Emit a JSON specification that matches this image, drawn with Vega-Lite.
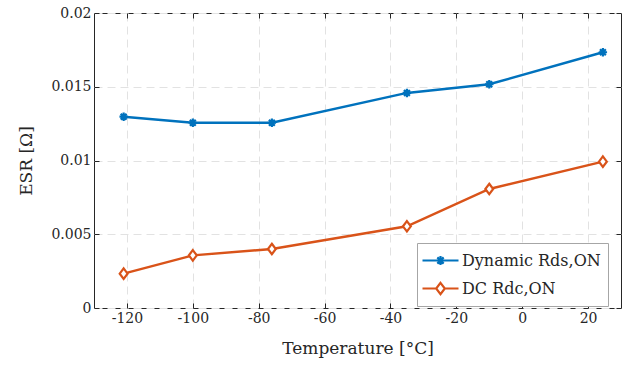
{
  "$schema": "https://vega.github.io/schema/vega-lite/v6.json",
  "width": 527,
  "height": 295,
  "autosize": {"type": "none"},
  "padding": {"left": 94, "top": 13, "right": 6, "bottom": 59},
  "background": "white",
  "config": {
    "view": {"stroke": "#262626", "strokeWidth": 1},
    "font": "DejaVu Serif",
    "axis": {
      "labelFont": "DejaVu Serif",
      "titleFont": "DejaVu Serif",
      "labelFontSize": 14,
      "titleFontSize": 17,
      "titleFontWeight": "normal",
      "labelColor": "#262626",
      "titleColor": "#262626",
      "tickColor": "#262626",
      "domain": false,
      "gridColor": "#e2e2e2",
      "gridDash": [8, 5],
      "gridWidth": 1
    },
    "legend": {"labelFont": "DejaVu Serif"}
  },
  "data": {
    "values": [
      {"t": -121, "esr": 0.01297, "s": "Dynamic"},
      {"t": -100, "esr": 0.01256, "s": "Dynamic"},
      {"t": -76, "esr": 0.01256, "s": "Dynamic"},
      {"t": -35, "esr": 0.01458, "s": "Dynamic"},
      {"t": -10, "esr": 0.01517, "s": "Dynamic"},
      {"t": 24.5, "esr": 0.01734, "s": "Dynamic"},
      {"t": -121, "esr": 0.00233, "s": "DC"},
      {"t": -100, "esr": 0.00357, "s": "DC"},
      {"t": -76, "esr": 0.00400, "s": "DC"},
      {"t": -35, "esr": 0.00554, "s": "DC"},
      {"t": -10, "esr": 0.00807, "s": "DC"},
      {"t": 24.5, "esr": 0.00992, "s": "DC"}
    ]
  },
  "layer": [
    {
      "mark": {"type": "line", "strokeWidth": 2.4},
      "encoding": {
        "x": {
          "field": "t", "type": "quantitative",
          "scale": {"domain": [-130, 30], "nice": false, "zero": false},
          "axis": {"title": "Temperature [°C]", "values": [-120, -100, -80, -60, -40, -20, 0, 20], "labelExpr": "replace(datum.label, '−', '-')", "grid": true, "tickSize": -5, "labelPadding": 8, "titlePadding": 15}
        },
        "y": {
          "field": "esr", "type": "quantitative",
          "scale": {"domain": [0, 0.02], "nice": false, "zero": true},
          "axis": {"title": "ESR [Ω]", "values": [0, 0.005, 0.01, 0.015, 0.02], "format": "~g", "grid": true, "tickSize": -5, "labelPadding": 8, "titlePadding": 15}
        },
        "color": {
          "field": "s", "type": "nominal",
          "scale": {"domain": ["Dynamic", "DC"], "range": ["#0072BD", "#D95319"]},
          "legend": {
            "title": null,
            "orient": "none",
            "legendX": 323,
            "legendY": 230,
            "direction": "vertical",
            "fillColor": "white",
            "strokeColor": "#a6a6a6",
            "cornerRadius": 0,
            "padding": 7,
            "symbolSize": 324,
            "symbolStrokeWidth": 2.2,
            "symbolOpacity": 1,
            "symbolFillColor": "white",
            "symbolOffset": 6,
            "labelOffset": 11,
            "rowPadding": 8,
            "labelFont": "DejaVu Serif",
            "labelFontSize": 16,
            "labelColor": "#262626",
            "labelExpr": "datum.value === 'Dynamic' ? 'Dynamic Rds,ON' : 'DC Rdc,ON'"
          }
        }
      }
    },
    {
      "transform": [{"filter": "datum.s === 'Dynamic'"}],
      "mark": {"type": "point", "filled": false, "fill": "white", "fillOpacity": 1, "opacity": 1, "strokeWidth": 2.2, "size": 70, "shape": "M-1,0L1,0M0,-1L0,1M-0.7,-0.7L0.7,0.7M-0.7,0.7L0.7,-0.7"},
      "encoding": {
        "x": {"field": "t", "type": "quantitative", "axis": null},
        "y": {"field": "esr", "type": "quantitative", "axis": null},
        "color": {"field": "s", "type": "nominal"}
      }
    },
    {
      "transform": [{"filter": "datum.s === 'DC'"}],
      "mark": {"type": "point", "filled": false, "fill": "white", "fillOpacity": 1, "opacity": 1, "strokeWidth": 2.2, "size": 110, "shape": "M0,-1L0.75,0L0,1L-0.75,0Z"},
      "encoding": {
        "x": {"field": "t", "type": "quantitative", "axis": null},
        "y": {"field": "esr", "type": "quantitative", "axis": null},
        "color": {"field": "s", "type": "nominal"}
      }
    },
    {
      "mark": {"type": "point", "opacity": 0, "filled": false},
      "encoding": {
        "x": {"field": "t", "type": "quantitative", "axis": {"orient": "top", "title": null, "labels": false, "grid": false, "tickSize": -5, "values": [-120, -100, -80, -60, -40, -20, 0, 20]}},
        "y": {"field": "esr", "type": "quantitative", "axis": {"orient": "right", "title": null, "labels": false, "grid": false, "tickSize": -5, "values": [0, 0.005, 0.01, 0.015, 0.02]}},
        "color": {"field": "s", "type": "nominal"},
        "shape": {
          "field": "s", "type": "nominal",
          "scale": {"domain": ["Dynamic", "DC"], "range": ["M-2,0L2,0M-0.5,0L0.5,0M0,-0.5L0,0.5M-0.35,-0.35L0.35,0.35M-0.35,0.35L0.35,-0.35", "M-2,0L-0.48,0M0.48,0L2,0M0,-0.63L0.48,0L0,0.63L-0.48,0Z"]}
        }
      }
    }
  ],
  "resolve": {"axis": {"x": "independent", "y": "independent"}}
}
